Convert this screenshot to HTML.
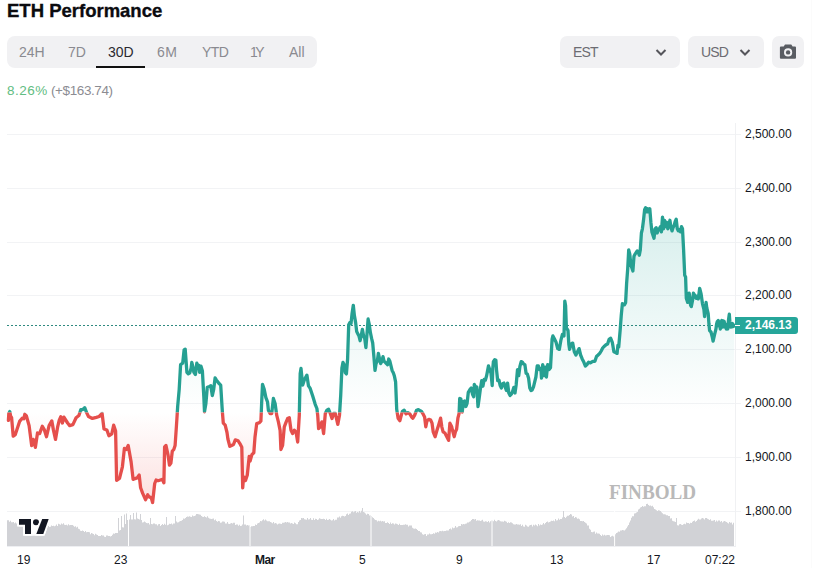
<!DOCTYPE html>
<html><head><meta charset="utf-8"><title>ETH Performance</title>
<style>
*{box-sizing:border-box;margin:0;padding:0}
html,body{width:815px;height:568px;background:#fff;overflow:hidden}
body{position:relative;font-family:"Liberation Sans",sans-serif;color:#131722}
.chart{position:absolute;left:0;top:0}
.title{position:absolute;left:7px;top:0px;font-size:18.5px;font-weight:bold;color:#0b0b0f;white-space:nowrap;line-height:22px;-webkit-text-stroke:0.35px #0b0b0f}
.tabs{position:absolute;left:7px;top:36px;width:310px;height:32px;background:#f1f1f3;border-radius:8px}
.tab{position:absolute;top:44px;font-size:14px;color:#8a8a90;white-space:nowrap}
.tab.sel{color:#2a2a30}
.uline{position:absolute;left:96px;top:66px;width:49px;height:2px;background:#111}
.chg{position:absolute;top:83px;font-size:13.5px;white-space:nowrap;color:#8c8c92}
.chg.g{color:#62bd82}
.dd{position:absolute;top:36px;height:32px;background:#f1f1f3;border-radius:7px}
.ddt{position:absolute;top:44px;font-size:14px;color:#6c6c72;white-space:nowrap;letter-spacing:-0.8px}
.yl{position:absolute;left:745px;font-size:12px;color:#131722;white-space:nowrap;line-height:18px}
.xl{position:absolute;top:552px;font-size:12px;color:#131722;white-space:nowrap;line-height:16px}
.plabel{position:absolute;left:735px;top:317px;width:63px;height:17px;background:#26a69a;border-radius:0 3px 3px 0;color:#fff;font-size:12px;font-weight:bold;line-height:17px;padding-left:10px}
.plabel:before{content:"";position:absolute;left:0;top:8px;width:5px;height:1px;background:#fff}
.wm{position:absolute;left:609px;top:480px;font-family:"Liberation Serif",serif;font-weight:bold;font-size:21px;color:#b9b9b9;white-space:nowrap;transform:scaleX(0.91);transform-origin:0 0}
.tv{position:absolute;left:10px;top:512px}
</style></head><body>
<svg class="chart" width="815" height="568" viewBox="0 0 815 568">
<defs>
<linearGradient id="gUp" x1="0" y1="205" x2="0" y2="412.5" gradientUnits="userSpaceOnUse">
<stop offset="0" stop-color="#26a69a" stop-opacity="0.19"/>
<stop offset="1" stop-color="#26a69a" stop-opacity="0.0"/>
</linearGradient>
<linearGradient id="gDn" x1="0" y1="412.5" x2="0" y2="505" gradientUnits="userSpaceOnUse">
<stop offset="0" stop-color="#ef5350" stop-opacity="0.0"/>
<stop offset="1" stop-color="#ef5350" stop-opacity="0.19"/>
</linearGradient>
<clipPath id="cUp"><rect x="0" y="0" width="736" height="412.5"/></clipPath>
<clipPath id="cDn"><rect x="0" y="412.5" width="736" height="200"/></clipPath>
</defs>
<path d="M7 134.5 H741" stroke="#f2f3f5" stroke-width="1"/>
<path d="M7 188.5 H741" stroke="#f2f3f5" stroke-width="1"/>
<path d="M7 242.5 H741" stroke="#f2f3f5" stroke-width="1"/>
<path d="M7 295.5 H741" stroke="#f2f3f5" stroke-width="1"/>
<path d="M7 349.5 H741" stroke="#f2f3f5" stroke-width="1"/>
<path d="M7 403.5 H741" stroke="#f2f3f5" stroke-width="1"/>
<path d="M7 457.5 H741" stroke="#f2f3f5" stroke-width="1"/>
<path d="M7 511.5 H741" stroke="#f2f3f5" stroke-width="1"/>
<path d="M735.5 123 V546" stroke="#f0f1f3" stroke-width="1"/>
<path d="M811.5 0 V568" stroke="#fbfbfb" stroke-width="1"/>
<path d="M8.4 420.4 L8.8 413.5 L9.8 411.6 L10.6 416 L11.6 417.7 L13.2 436.2 L15.3 434.6 L19.6 421.4 L22.2 418.2 L23.8 418.8 L24.8 414.3 L26.4 416 L29.1 425.6 L31.7 445.7 L33.3 439.4 L35.4 447.3 L37.5 433 L39.6 433.6 L42.3 426.2 L44.4 429.9 L46.5 436.7 L49.1 425.6 L51.8 420.9 L53.4 429.9 L55.5 439.4 L57.6 427.2 L59.2 420.4 L60.8 416.7 L62.4 423 L63.9 417.2 L67.6 423 L69.7 425.6 L72.9 424.6 L76.1 417.7 L78.9 415.5 L80.8 409.7 L82.7 409.7 L84.7 407.7 L86.6 412.6 L88.5 416.5 L92.4 418.4 L96.3 417.4 L99.2 416.5 L102.1 413.5 L104 429 L106.9 430 L108.9 435.8 L111.8 433.9 L113.7 425.2 L115.6 431 L116.6 480.3 L119.5 478.4 L122.4 466.8 L124.4 448.4 L126.3 449.4 L128.2 445.5 L131.1 461.9 L133.1 479.4 L135 478.6 L137.1 477.9 L139.2 475.1 L140.6 487.7 L142.7 493.4 L145.6 499.7 L147.7 494.8 L149.1 496.9 L151.2 497.6 L152.6 502.5 L154.7 483.5 L156.1 480 L158.2 480.7 L160.4 480 L162.5 479.3 L163.9 482.8 L164.6 446.9 L166 445.5 L168.1 455.4 L169.5 465.2 L170.9 463.1 L172.3 451.1 L173.7 449.7 L175.1 445.5 L176.5 425 L177.7 406.2 L179.2 389.3 L180.6 364.6 L182.7 363.2 L184.1 349.9 L185.2 349.2 L186.2 362.5 L186.9 372.4 L188.3 373.8 L189.7 373.1 L191.1 368.2 L191.8 362.5 L193.2 368.2 L193.9 372.4 L195.4 374.5 L196.8 363.2 L198.2 368.2 L198.9 365.4 L199.6 372.4 L201 366.1 L202.4 371 L203.8 396.3 L204.5 411.8 L205.9 403.4 L207.3 387.2 L209.4 386.5 L210.8 385.8 L212.3 395.6 L213.7 389.3 L215.1 378 L216.5 380.1 L218.6 383 L220.7 385.1 L222.1 407.6 L222.4 412.2 L223.3 423.2 L225.2 425.1 L227 432.5 L227.9 439 L229.8 446.3 L231.6 445.4 L233.5 444.5 L235.3 439.9 L238.1 440.8 L239.9 443.6 L241.8 447.3 L242.7 487.9 L243.6 476.8 L245.5 480.5 L247.3 475 L249.2 456.5 L250.1 461.1 L251.9 454.6 L253.8 452.8 L255 437 L256.7 423.6 L259.2 422.7 L260.9 421.1 L261.7 401.8 L262.5 384.3 L264.2 389.3 L265.9 397.6 L267.5 401.8 L268.4 410.2 L270.1 413.5 L271.7 413.5 L273.4 398.5 L275.1 403.5 L276.7 415.2 L278.4 421.9 L280.1 430.3 L280.9 449.5 L282.6 445.3 L284.3 426.9 L285.9 422.7 L287.6 418.5 L289.3 417.7 L291 430.3 L292.6 433.6 L294.3 430.3 L296 431.9 L297.7 442 L299.3 415.2 L300.2 373.4 L301 368.4 L302.7 385.1 L304.3 380.1 L306.9 375.1 L308.5 385.9 L310.2 388.4 L312.7 396 L315.2 404.3 L316.9 408.5 L317.7 415.2 L318.6 428.6 L320.2 426.9 L321.9 421.9 L323.6 433.6 L325.3 413.5 L326.9 410.2 L328.6 409.3 L330.3 413.5 L332 418.5 L333.6 413.5 L335.3 413.5 L337.8 424.4 L339.5 415.2 L340.7 395.6 L341.9 368.1 L343 362.4 L344.1 364.7 L345.3 372.7 L346.4 373.9 L347.6 359 L348.7 324.7 L349.9 322.4 L351 323.6 L352.1 313.3 L353.3 305.3 L354.4 315.6 L355.6 322.4 L356.7 331.6 L357.9 333.9 L359 336.1 L360.1 340.7 L361.3 335 L362.4 329.3 L363.6 336.1 L364.7 338.4 L365.9 347.6 L367 333.9 L368.1 319 L369.3 324.7 L370.4 332.7 L371.6 338.4 L372.7 343 L373.9 356.7 L375 370.4 L376.1 363.6 L377.3 361.3 L378.4 353.3 L379.6 359 L380.7 363.6 L381.9 361.3 L383 356.7 L384.1 361.3 L385.3 362.4 L386.4 363.6 L387.6 364.7 L388.7 359 L389.9 361.3 L391 365.9 L392.1 370.4 L393.3 372.7 L394.4 376.1 L395.6 381.9 L396.7 409.3 L398.1 418.2 L399.9 420.7 L401.2 415.7 L402.4 411.4 L404.2 410.2 L406.1 413.9 L407.9 412.7 L409.8 413.9 L411.6 417 L412.9 418.2 L414.7 415.1 L416.6 410.2 L418.4 409.6 L420.3 410.8 L421.5 411.4 L422.7 413.3 L424.6 417 L425.8 426.8 L427 420.7 L428.9 419.4 L430.7 420.1 L432 423.1 L433.2 431.8 L435.1 436.7 L436.9 430.5 L438.8 424.4 L440.6 418.2 L441.8 426.8 L443.1 431.8 L444.9 433 L446.8 436.7 L448.6 440.4 L449.9 423.1 L451.7 426.8 L452.9 431.8 L454.2 436.7 L455.4 431.8 L456.6 429.3 L457.9 418.2 L459.1 413.3 L459.7 398.5 L460.9 399.1 L462.2 412 L463.4 402.2 L464.6 401 L465.9 406.5 L467.1 403.4 L468.3 392.3 L470.2 389.2 L471.2 388.1 L472.5 394.2 L473.7 396.7 L474.3 384.4 L475.5 386.8 L476.8 386.8 L478 406.6 L479.2 397.9 L480.5 388.1 L481.7 380.7 L482.9 386.2 L484.2 379.4 L485.4 380.1 L486.6 375.7 L488.5 365.9 L489.7 369.6 L491 373.3 L492.2 385.6 L492.8 368.4 L493.4 361.6 L494.7 359.7 L495.9 360.3 L496.5 369.6 L497.7 380.7 L499 380.1 L500.2 385.6 L501.4 388.1 L502.7 383.8 L503.9 383.1 L505.1 386.8 L506.4 390.5 L507.6 383.1 L508.8 393 L510.1 395.5 L511.3 394.2 L512.5 391.8 L513.8 387.5 L515 393 L516.2 384.4 L517.5 369.6 L518.7 375.7 L519.9 366.5 L521.2 361.6 L522.4 362.2 L523.6 364.1 L524.9 364.7 L526.1 373.3 L527.3 373.9 L528.6 378.2 L529.8 388.1 L531 390.5 L532.2 389.9 L533.5 386.8 L534.7 381.9 L535.9 377 L537.2 365.9 L538.4 365.9 L539.6 369.6 L540.9 368.4 L541.5 378.2 L542.7 364.7 L544 375.7 L545.2 367.1 L546.4 377 L547.7 364.7 L548.9 369.6 L550.5 367.6 L552.1 339.1 L552.9 335.9 L554.5 339.1 L556.1 342.3 L557.7 348.6 L559.3 349.4 L560.8 340.7 L562.4 334.4 L564 335.9 L564.8 301.1 L565.6 305.8 L566.4 328 L568 330.4 L568.8 343.9 L569.6 349.4 L571.1 343.9 L572.7 343.1 L574.3 351.8 L575.9 355 L577.5 351.8 L579.1 348.6 L580.6 355 L582.2 358.9 L583.8 362.1 L585.4 366 L587 364.5 L588.6 362.1 L590.1 362.9 L591.7 362.1 L593.3 361.3 L594.9 361.3 L596.5 356.5 L598.1 355 L599.7 353.4 L601.2 351 L602.8 347.8 L604.4 346.2 L606 344.7 L607.6 343.9 L609.2 339.1 L610.7 338.3 L612.3 342.3 L613.9 351.8 L615.5 352.6 L617.1 353.4 L617.9 345.4 L618.7 347 L620.2 329.6 L621.3 314.9 L622.4 303.7 L624.5 304.8 L625.6 302.7 L626.6 283.7 L627.7 268.9 L628.7 249.9 L629.8 254.1 L630.8 264.7 L632.9 271 L634 256.2 L635.1 254.1 L637.2 250.9 L638.2 252 L639.3 255.2 L640.3 249.9 L641.4 233 L642.4 228.8 L643.5 220.3 L644.6 209.8 L645.6 207.7 L646.7 211.9 L647.7 208.7 L648.8 211.9 L649.8 208.7 L650.9 222.4 L651.9 231.9 L654 238.3 L655.1 228.8 L656.2 227.7 L657.2 233 L658.3 229.8 L659.3 228.8 L660.4 226.7 L661.4 231.9 L662.5 217.2 L663.5 228.8 L664.6 220.3 L665.7 226.7 L666.7 222.4 L667.8 228.8 L668.8 224.6 L669.9 220.3 L670.9 226.7 L672 230.9 L673 227.7 L674.1 225.6 L675.2 221.4 L676.2 219.3 L677.3 228.8 L678.3 230.9 L679.4 229.8 L680.4 231.9 L681.5 226.7 L682.5 228.8 L683.6 249.9 L684.7 275.2 L685.6 277 L686.3 298.2 L687.7 302.4 L689.2 293.2 L690.6 305.2 L691.3 306.6 L692.7 299.6 L693.4 293.2 L694.8 295.4 L696.2 298.2 L696.9 296.1 L698.3 298.9 L699.7 288.3 L701.1 293.9 L702.5 303.8 L703.9 309.4 L704.6 316.5 L706.1 302.4 L706.8 308 L708.2 313.7 L708.9 323.5 L709.6 330.6 L711 332 L712.4 337.6 L713.1 341.1 L714.5 334.8 L715.9 329.2 L716.6 324 L717.3 321.5 L718.2 320.5 L719 326 L719.6 322 L720.3 329 L721 323 L721.8 320.5 L722.6 327 L723.3 321 L724.2 321.5 L724.8 327 L725.5 324 L726.3 329 L727 326 L727.7 329 L728.5 320 L729.3 314.2 L729.9 322 L730.5 327 L731.2 324 L731.9 327 L732.6 323.5 L733.3 326.5 L734.2 325.2 L734.2 412.5 L8.4 412.5 Z" fill="url(#gUp)" clip-path="url(#cUp)"/>
<path d="M8.4 420.4 L8.8 413.5 L9.8 411.6 L10.6 416 L11.6 417.7 L13.2 436.2 L15.3 434.6 L19.6 421.4 L22.2 418.2 L23.8 418.8 L24.8 414.3 L26.4 416 L29.1 425.6 L31.7 445.7 L33.3 439.4 L35.4 447.3 L37.5 433 L39.6 433.6 L42.3 426.2 L44.4 429.9 L46.5 436.7 L49.1 425.6 L51.8 420.9 L53.4 429.9 L55.5 439.4 L57.6 427.2 L59.2 420.4 L60.8 416.7 L62.4 423 L63.9 417.2 L67.6 423 L69.7 425.6 L72.9 424.6 L76.1 417.7 L78.9 415.5 L80.8 409.7 L82.7 409.7 L84.7 407.7 L86.6 412.6 L88.5 416.5 L92.4 418.4 L96.3 417.4 L99.2 416.5 L102.1 413.5 L104 429 L106.9 430 L108.9 435.8 L111.8 433.9 L113.7 425.2 L115.6 431 L116.6 480.3 L119.5 478.4 L122.4 466.8 L124.4 448.4 L126.3 449.4 L128.2 445.5 L131.1 461.9 L133.1 479.4 L135 478.6 L137.1 477.9 L139.2 475.1 L140.6 487.7 L142.7 493.4 L145.6 499.7 L147.7 494.8 L149.1 496.9 L151.2 497.6 L152.6 502.5 L154.7 483.5 L156.1 480 L158.2 480.7 L160.4 480 L162.5 479.3 L163.9 482.8 L164.6 446.9 L166 445.5 L168.1 455.4 L169.5 465.2 L170.9 463.1 L172.3 451.1 L173.7 449.7 L175.1 445.5 L176.5 425 L177.7 406.2 L179.2 389.3 L180.6 364.6 L182.7 363.2 L184.1 349.9 L185.2 349.2 L186.2 362.5 L186.9 372.4 L188.3 373.8 L189.7 373.1 L191.1 368.2 L191.8 362.5 L193.2 368.2 L193.9 372.4 L195.4 374.5 L196.8 363.2 L198.2 368.2 L198.9 365.4 L199.6 372.4 L201 366.1 L202.4 371 L203.8 396.3 L204.5 411.8 L205.9 403.4 L207.3 387.2 L209.4 386.5 L210.8 385.8 L212.3 395.6 L213.7 389.3 L215.1 378 L216.5 380.1 L218.6 383 L220.7 385.1 L222.1 407.6 L222.4 412.2 L223.3 423.2 L225.2 425.1 L227 432.5 L227.9 439 L229.8 446.3 L231.6 445.4 L233.5 444.5 L235.3 439.9 L238.1 440.8 L239.9 443.6 L241.8 447.3 L242.7 487.9 L243.6 476.8 L245.5 480.5 L247.3 475 L249.2 456.5 L250.1 461.1 L251.9 454.6 L253.8 452.8 L255 437 L256.7 423.6 L259.2 422.7 L260.9 421.1 L261.7 401.8 L262.5 384.3 L264.2 389.3 L265.9 397.6 L267.5 401.8 L268.4 410.2 L270.1 413.5 L271.7 413.5 L273.4 398.5 L275.1 403.5 L276.7 415.2 L278.4 421.9 L280.1 430.3 L280.9 449.5 L282.6 445.3 L284.3 426.9 L285.9 422.7 L287.6 418.5 L289.3 417.7 L291 430.3 L292.6 433.6 L294.3 430.3 L296 431.9 L297.7 442 L299.3 415.2 L300.2 373.4 L301 368.4 L302.7 385.1 L304.3 380.1 L306.9 375.1 L308.5 385.9 L310.2 388.4 L312.7 396 L315.2 404.3 L316.9 408.5 L317.7 415.2 L318.6 428.6 L320.2 426.9 L321.9 421.9 L323.6 433.6 L325.3 413.5 L326.9 410.2 L328.6 409.3 L330.3 413.5 L332 418.5 L333.6 413.5 L335.3 413.5 L337.8 424.4 L339.5 415.2 L340.7 395.6 L341.9 368.1 L343 362.4 L344.1 364.7 L345.3 372.7 L346.4 373.9 L347.6 359 L348.7 324.7 L349.9 322.4 L351 323.6 L352.1 313.3 L353.3 305.3 L354.4 315.6 L355.6 322.4 L356.7 331.6 L357.9 333.9 L359 336.1 L360.1 340.7 L361.3 335 L362.4 329.3 L363.6 336.1 L364.7 338.4 L365.9 347.6 L367 333.9 L368.1 319 L369.3 324.7 L370.4 332.7 L371.6 338.4 L372.7 343 L373.9 356.7 L375 370.4 L376.1 363.6 L377.3 361.3 L378.4 353.3 L379.6 359 L380.7 363.6 L381.9 361.3 L383 356.7 L384.1 361.3 L385.3 362.4 L386.4 363.6 L387.6 364.7 L388.7 359 L389.9 361.3 L391 365.9 L392.1 370.4 L393.3 372.7 L394.4 376.1 L395.6 381.9 L396.7 409.3 L398.1 418.2 L399.9 420.7 L401.2 415.7 L402.4 411.4 L404.2 410.2 L406.1 413.9 L407.9 412.7 L409.8 413.9 L411.6 417 L412.9 418.2 L414.7 415.1 L416.6 410.2 L418.4 409.6 L420.3 410.8 L421.5 411.4 L422.7 413.3 L424.6 417 L425.8 426.8 L427 420.7 L428.9 419.4 L430.7 420.1 L432 423.1 L433.2 431.8 L435.1 436.7 L436.9 430.5 L438.8 424.4 L440.6 418.2 L441.8 426.8 L443.1 431.8 L444.9 433 L446.8 436.7 L448.6 440.4 L449.9 423.1 L451.7 426.8 L452.9 431.8 L454.2 436.7 L455.4 431.8 L456.6 429.3 L457.9 418.2 L459.1 413.3 L459.7 398.5 L460.9 399.1 L462.2 412 L463.4 402.2 L464.6 401 L465.9 406.5 L467.1 403.4 L468.3 392.3 L470.2 389.2 L471.2 388.1 L472.5 394.2 L473.7 396.7 L474.3 384.4 L475.5 386.8 L476.8 386.8 L478 406.6 L479.2 397.9 L480.5 388.1 L481.7 380.7 L482.9 386.2 L484.2 379.4 L485.4 380.1 L486.6 375.7 L488.5 365.9 L489.7 369.6 L491 373.3 L492.2 385.6 L492.8 368.4 L493.4 361.6 L494.7 359.7 L495.9 360.3 L496.5 369.6 L497.7 380.7 L499 380.1 L500.2 385.6 L501.4 388.1 L502.7 383.8 L503.9 383.1 L505.1 386.8 L506.4 390.5 L507.6 383.1 L508.8 393 L510.1 395.5 L511.3 394.2 L512.5 391.8 L513.8 387.5 L515 393 L516.2 384.4 L517.5 369.6 L518.7 375.7 L519.9 366.5 L521.2 361.6 L522.4 362.2 L523.6 364.1 L524.9 364.7 L526.1 373.3 L527.3 373.9 L528.6 378.2 L529.8 388.1 L531 390.5 L532.2 389.9 L533.5 386.8 L534.7 381.9 L535.9 377 L537.2 365.9 L538.4 365.9 L539.6 369.6 L540.9 368.4 L541.5 378.2 L542.7 364.7 L544 375.7 L545.2 367.1 L546.4 377 L547.7 364.7 L548.9 369.6 L550.5 367.6 L552.1 339.1 L552.9 335.9 L554.5 339.1 L556.1 342.3 L557.7 348.6 L559.3 349.4 L560.8 340.7 L562.4 334.4 L564 335.9 L564.8 301.1 L565.6 305.8 L566.4 328 L568 330.4 L568.8 343.9 L569.6 349.4 L571.1 343.9 L572.7 343.1 L574.3 351.8 L575.9 355 L577.5 351.8 L579.1 348.6 L580.6 355 L582.2 358.9 L583.8 362.1 L585.4 366 L587 364.5 L588.6 362.1 L590.1 362.9 L591.7 362.1 L593.3 361.3 L594.9 361.3 L596.5 356.5 L598.1 355 L599.7 353.4 L601.2 351 L602.8 347.8 L604.4 346.2 L606 344.7 L607.6 343.9 L609.2 339.1 L610.7 338.3 L612.3 342.3 L613.9 351.8 L615.5 352.6 L617.1 353.4 L617.9 345.4 L618.7 347 L620.2 329.6 L621.3 314.9 L622.4 303.7 L624.5 304.8 L625.6 302.7 L626.6 283.7 L627.7 268.9 L628.7 249.9 L629.8 254.1 L630.8 264.7 L632.9 271 L634 256.2 L635.1 254.1 L637.2 250.9 L638.2 252 L639.3 255.2 L640.3 249.9 L641.4 233 L642.4 228.8 L643.5 220.3 L644.6 209.8 L645.6 207.7 L646.7 211.9 L647.7 208.7 L648.8 211.9 L649.8 208.7 L650.9 222.4 L651.9 231.9 L654 238.3 L655.1 228.8 L656.2 227.7 L657.2 233 L658.3 229.8 L659.3 228.8 L660.4 226.7 L661.4 231.9 L662.5 217.2 L663.5 228.8 L664.6 220.3 L665.7 226.7 L666.7 222.4 L667.8 228.8 L668.8 224.6 L669.9 220.3 L670.9 226.7 L672 230.9 L673 227.7 L674.1 225.6 L675.2 221.4 L676.2 219.3 L677.3 228.8 L678.3 230.9 L679.4 229.8 L680.4 231.9 L681.5 226.7 L682.5 228.8 L683.6 249.9 L684.7 275.2 L685.6 277 L686.3 298.2 L687.7 302.4 L689.2 293.2 L690.6 305.2 L691.3 306.6 L692.7 299.6 L693.4 293.2 L694.8 295.4 L696.2 298.2 L696.9 296.1 L698.3 298.9 L699.7 288.3 L701.1 293.9 L702.5 303.8 L703.9 309.4 L704.6 316.5 L706.1 302.4 L706.8 308 L708.2 313.7 L708.9 323.5 L709.6 330.6 L711 332 L712.4 337.6 L713.1 341.1 L714.5 334.8 L715.9 329.2 L716.6 324 L717.3 321.5 L718.2 320.5 L719 326 L719.6 322 L720.3 329 L721 323 L721.8 320.5 L722.6 327 L723.3 321 L724.2 321.5 L724.8 327 L725.5 324 L726.3 329 L727 326 L727.7 329 L728.5 320 L729.3 314.2 L729.9 322 L730.5 327 L731.2 324 L731.9 327 L732.6 323.5 L733.3 326.5 L734.2 325.2 L734.2 412.5 L8.4 412.5 Z" fill="url(#gDn)" clip-path="url(#cDn)"/>
<path d="M7 546 V520.2 H8 V546 ZM8 546 V520.2 H9 V546 ZM9 546 V521.7 H10 V546 ZM10 546 V520.8 H11 V546 ZM11 546 V522.2 H12 V546 ZM12 546 V522.2 H13 V546 ZM13 546 V521.9 H14 V546 ZM14 546 V523.3 H15 V546 ZM15 546 V522.5 H16 V546 ZM16 546 V523.5 H17 V546 ZM17 546 V522.8 H18 V546 ZM18 546 V523 H19 V546 ZM19 546 V523.8 H20 V546 ZM20 546 V524.8 H21 V546 ZM21 546 V523.3 H22 V546 ZM22 546 V523.7 H23 V546 ZM23 546 V524.6 H24 V546 ZM24 546 V525.5 H25 V546 ZM25 546 V524.7 H26 V546 ZM26 546 V524.4 H27 V546 ZM27 546 V525.8 H28 V546 ZM28 546 V523.9 H29 V546 ZM29 546 V525.8 H30 V546 ZM30 546 V524.6 H31 V546 ZM31 546 V524.4 H32 V546 ZM32 546 V524.4 H33 V546 ZM33 546 V524.9 H34 V546 ZM34 546 V526.1 H35 V546 ZM35 546 V524.8 H36 V546 ZM36 546 V525.8 H37 V546 ZM37 546 V526 H38 V546 ZM38 546 V525.5 H39 V546 ZM39 546 V525.9 H40 V546 ZM40 546 V524.9 H41 V546 ZM41 546 V525 H42 V546 ZM42 546 V525.4 H43 V546 ZM43 546 V526.5 H44 V546 ZM44 546 V526.1 H45 V546 ZM45 546 V525.9 H46 V546 ZM46 546 V526.6 H47 V546 ZM47 546 V526.4 H48 V546 ZM48 546 V526.1 H49 V546 ZM49 546 V527.1 H50 V546 ZM50 546 V526.7 H51 V546 ZM51 546 V525.5 H52 V546 ZM52 546 V526 H53 V546 ZM53 546 V525.7 H54 V546 ZM54 546 V526.3 H55 V546 ZM55 546 V525.8 H56 V546 ZM56 546 V524.6 H57 V546 ZM57 546 V525.9 H58 V546 ZM58 546 V523.8 H59 V546 ZM59 546 V524.2 H60 V546 ZM60 546 V524.8 H61 V546 ZM61 546 V523.4 H62 V546 ZM62 546 V524.2 H63 V546 ZM63 546 V523.3 H64 V546 ZM64 546 V524.7 H65 V546 ZM65 546 V525 H66 V546 ZM66 546 V524.7 H67 V546 ZM67 546 V525.4 H68 V546 ZM68 546 V524.3 H69 V546 ZM69 546 V525.2 H70 V546 ZM70 546 V525.1 H71 V546 ZM71 546 V525.1 H72 V546 ZM72 546 V524.9 H73 V546 ZM73 546 V525.8 H74 V546 ZM74 546 V526.7 H75 V546 ZM75 546 V526.3 H76 V546 ZM76 546 V527.4 H77 V546 ZM77 546 V526.7 H78 V546 ZM78 546 V528.7 H79 V546 ZM79 546 V529.3 H80 V546 ZM80 546 V530.7 H81 V546 ZM81 546 V531 H82 V546 ZM82 546 V530.4 H83 V546 ZM83 546 V531.1 H84 V546 ZM84 546 V532 H85 V546 ZM85 546 V530.9 H86 V546 ZM86 546 V532.2 H87 V546 ZM87 546 V531.9 H88 V546 ZM88 546 V532.1 H89 V546 ZM89 546 V532.3 H90 V546 ZM90 546 V534.2 H91 V546 ZM91 546 V533.1 H92 V546 ZM92 546 V533.6 H93 V546 ZM93 546 V534.1 H94 V546 ZM94 546 V535.3 H95 V546 ZM95 546 V533.7 H96 V546 ZM96 546 V534.6 H97 V546 ZM97 546 V535 H98 V546 ZM98 546 V535.9 H99 V546 ZM99 546 V535.9 H100 V546 ZM100 546 V536.1 H101 V546 ZM101 546 V535 H102 V546 ZM102 546 V535.4 H103 V546 ZM103 546 V535.4 H104 V546 ZM104 546 V536.7 H105 V546 ZM105 546 V537 H106 V546 ZM106 546 V535.4 H107 V546 ZM107 546 V535.6 H108 V546 ZM108 546 V535.9 H109 V546 ZM109 546 V536 H110 V546 ZM110 546 V536.4 H111 V546 ZM111 546 V536 H112 V546 ZM112 546 V534.7 H113 V546 ZM113 546 V533.5 H114 V546 ZM114 546 V533.8 H115 V546 ZM115 546 V533.1 H116 V546 ZM116 546 V532.9 H117 V546 ZM117 546 V533 H118 V546 ZM118 546 V531.7 H119 V546 ZM119 546 V530.5 H120 V546 ZM120 546 V530 H121 V546 ZM121 546 V529.4 H122 V546 ZM122 546 V527.3 H123 V546 ZM123 546 V527.6 H124 V546 ZM124 546 V525.6 H125 V546 ZM125 546 V524.1 H126 V546 ZM126 546 V522.1 H127 V546 ZM127 546 V519.9 H128 V546 ZM128 546 V520 H129 V546 ZM129 546 V519.4 H130 V546 ZM130 546 V520.6 H131 V546 ZM131 546 V519.4 H132 V546 ZM132 546 V519.4 H133 V546 ZM133 546 V519.5 H134 V546 ZM134 546 V519.3 H135 V546 ZM135 546 V519.6 H136 V546 ZM136 546 V518.8 H137 V546 ZM137 546 V518.6 H138 V546 ZM138 546 V519 H139 V546 ZM139 546 V519.4 H140 V546 ZM140 546 V520.4 H141 V546 ZM141 546 V520.1 H142 V546 ZM142 546 V522.4 H143 V546 ZM143 546 V522.2 H144 V546 ZM144 546 V521.6 H145 V546 ZM145 546 V522.3 H146 V546 ZM146 546 V522.9 H147 V546 ZM147 546 V523.3 H148 V546 ZM148 546 V522.9 H149 V546 ZM149 546 V524.6 H150 V546 ZM150 546 V525 H151 V546 ZM151 546 V524 H152 V546 ZM152 546 V524.2 H153 V546 ZM153 546 V523.4 H154 V546 ZM154 546 V523.6 H155 V546 ZM155 546 V524.2 H156 V546 ZM156 546 V524.2 H157 V546 ZM157 546 V525.6 H158 V546 ZM158 546 V524.2 H159 V546 ZM159 546 V524.1 H160 V546 ZM160 546 V526 H161 V546 ZM161 546 V525 H162 V546 ZM162 546 V524.1 H163 V546 ZM163 546 V524.9 H164 V546 ZM164 546 V523.7 H165 V546 ZM165 546 V524.7 H166 V546 ZM166 546 V525.6 H167 V546 ZM167 546 V525.2 H168 V546 ZM168 546 V524.8 H169 V546 ZM169 546 V523.8 H170 V546 ZM170 546 V523.9 H171 V546 ZM171 546 V523.4 H172 V546 ZM172 546 V524.4 H173 V546 ZM173 546 V523.4 H174 V546 ZM174 546 V523.6 H175 V546 ZM175 546 V522.1 H176 V546 ZM176 546 V521.5 H177 V546 ZM177 546 V522.4 H178 V546 ZM178 546 V522.3 H179 V546 ZM179 546 V521.6 H180 V546 ZM180 546 V521.1 H181 V546 ZM181 546 V520.7 H182 V546 ZM182 546 V520.1 H183 V546 ZM183 546 V518.5 H184 V546 ZM184 546 V518.7 H185 V546 ZM185 546 V518 H186 V546 ZM186 546 V516.9 H187 V546 ZM187 546 V516.5 H188 V546 ZM188 546 V516.7 H189 V546 ZM189 546 V516.3 H190 V546 ZM190 546 V516.8 H191 V546 ZM191 546 V517 H192 V546 ZM192 546 V515.5 H193 V546 ZM193 546 V516.2 H194 V546 ZM194 546 V515.9 H195 V546 ZM195 546 V515.5 H196 V546 ZM196 546 V514.1 H197 V546 ZM197 546 V514.1 H198 V546 ZM198 546 V514.3 H199 V546 ZM199 546 V514.5 H200 V546 ZM200 546 V514.8 H201 V546 ZM201 546 V515.9 H202 V546 ZM202 546 V516.8 H203 V546 ZM203 546 V516.9 H204 V546 ZM204 546 V516.3 H205 V546 ZM205 546 V517 H206 V546 ZM206 546 V517.5 H207 V546 ZM207 546 V516.2 H208 V546 ZM208 546 V517.7 H209 V546 ZM209 546 V518.6 H210 V546 ZM210 546 V518.7 H211 V546 ZM211 546 V519 H212 V546 ZM212 546 V518.8 H213 V546 ZM213 546 V518.5 H214 V546 ZM214 546 V520.2 H215 V546 ZM215 546 V519.6 H216 V546 ZM216 546 V521 H217 V546 ZM217 546 V521.8 H218 V546 ZM218 546 V520.9 H219 V546 ZM219 546 V521.3 H220 V546 ZM220 546 V522.8 H221 V546 ZM221 546 V522.6 H222 V546 ZM222 546 V521.5 H223 V546 ZM223 546 V521.5 H224 V546 ZM224 546 V521.7 H225 V546 ZM225 546 V523.5 H226 V546 ZM226 546 V523.4 H227 V546 ZM227 546 V522 H228 V546 ZM228 546 V523.7 H229 V546 ZM229 546 V524.1 H230 V546 ZM230 546 V523.5 H231 V546 ZM231 546 V523 H232 V546 ZM232 546 V523.5 H233 V546 ZM233 546 V522.8 H234 V546 ZM234 546 V522.8 H235 V546 ZM235 546 V525.1 H236 V546 ZM236 546 V524.6 H237 V546 ZM237 546 V524.6 H238 V546 ZM238 546 V525.7 H239 V546 ZM239 546 V524.8 H240 V546 ZM240 546 V525.9 H241 V546 ZM241 546 V525.8 H242 V546 ZM242 546 V524.5 H243 V546 ZM243 546 V524.6 H244 V546 ZM244 546 V524.6 H245 V546 ZM245 546 V524.5 H246 V546 ZM246 546 V525.4 H247 V546 ZM247 546 V524.9 H248 V546 ZM248 546 V525.5 H249 V546 ZM249 546 V525.2 H250 V546 ZM250 546 V527.1 H251 V546 ZM251 546 V526.2 H252 V546 ZM252 546 V526.2 H253 V546 ZM253 546 V526 H254 V546 ZM254 546 V526.1 H255 V546 ZM255 546 V524.5 H256 V546 ZM256 546 V525.1 H257 V546 ZM257 546 V523.6 H258 V546 ZM258 546 V523.1 H259 V546 ZM259 546 V522.6 H260 V546 ZM260 546 V520.9 H261 V546 ZM261 546 V521.3 H262 V546 ZM262 546 V520.2 H263 V546 ZM263 546 V519.3 H264 V546 ZM264 546 V520.5 H265 V546 ZM265 546 V519.4 H266 V546 ZM266 546 V520.4 H267 V546 ZM267 546 V521.3 H268 V546 ZM268 546 V521.3 H269 V546 ZM269 546 V521.2 H270 V546 ZM270 546 V521.9 H271 V546 ZM271 546 V522.4 H272 V546 ZM272 546 V523.2 H273 V546 ZM273 546 V522.1 H274 V546 ZM274 546 V523.4 H275 V546 ZM275 546 V523.1 H276 V546 ZM276 546 V523.5 H277 V546 ZM277 546 V524.5 H278 V546 ZM278 546 V523.7 H279 V546 ZM279 546 V523.6 H280 V546 ZM280 546 V523.8 H281 V546 ZM281 546 V523.9 H282 V546 ZM282 546 V522.7 H283 V546 ZM283 546 V522.8 H284 V546 ZM284 546 V522.4 H285 V546 ZM285 546 V522.1 H286 V546 ZM286 546 V522.5 H287 V546 ZM287 546 V522.1 H288 V546 ZM288 546 V522.4 H289 V546 ZM289 546 V522.4 H290 V546 ZM290 546 V523.5 H291 V546 ZM291 546 V523.1 H292 V546 ZM292 546 V523.6 H293 V546 ZM293 546 V523.9 H294 V546 ZM294 546 V522.5 H295 V546 ZM295 546 V523.3 H296 V546 ZM296 546 V524.3 H297 V546 ZM297 546 V524.2 H298 V546 ZM298 546 V522 H299 V546 ZM299 546 V520.6 H300 V546 ZM300 546 V519.9 H301 V546 ZM301 546 V518 H302 V546 ZM302 546 V518.3 H303 V546 ZM303 546 V518 H304 V546 ZM304 546 V519.3 H305 V546 ZM305 546 V519.5 H306 V546 ZM306 546 V519.8 H307 V546 ZM307 546 V518.1 H308 V546 ZM308 546 V519.4 H309 V546 ZM309 546 V519.3 H310 V546 ZM310 546 V518.1 H311 V546 ZM311 546 V519.7 H312 V546 ZM312 546 V519.9 H313 V546 ZM313 546 V518.3 H314 V546 ZM314 546 V519.9 H315 V546 ZM315 546 V518.7 H316 V546 ZM316 546 V518.9 H317 V546 ZM317 546 V520 H318 V546 ZM318 546 V519.6 H319 V546 ZM319 546 V518.2 H320 V546 ZM320 546 V518.8 H321 V546 ZM321 546 V519.1 H322 V546 ZM322 546 V518.9 H323 V546 ZM323 546 V518.7 H324 V546 ZM324 546 V519.1 H325 V546 ZM325 546 V520.1 H326 V546 ZM326 546 V518.7 H327 V546 ZM327 546 V520 H328 V546 ZM328 546 V519.8 H329 V546 ZM329 546 V519 H330 V546 ZM330 546 V519.8 H331 V546 ZM331 546 V520.6 H332 V546 ZM332 546 V520.2 H333 V546 ZM333 546 V518.9 H334 V546 ZM334 546 V520.5 H335 V546 ZM335 546 V519.7 H336 V546 ZM336 546 V519.8 H337 V546 ZM337 546 V517.5 H338 V546 ZM338 546 V517.5 H339 V546 ZM339 546 V516.6 H340 V546 ZM340 546 V517.8 H341 V546 ZM341 546 V516.3 H342 V546 ZM342 546 V515.7 H343 V546 ZM343 546 V515.9 H344 V546 ZM344 546 V516.6 H345 V546 ZM345 546 V516 H346 V546 ZM346 546 V514.3 H347 V546 ZM347 546 V513.6 H348 V546 ZM348 546 V514.9 H349 V546 ZM349 546 V513.7 H350 V546 ZM350 546 V513.5 H351 V546 ZM351 546 V511.8 H352 V546 ZM352 546 V511.3 H353 V546 ZM353 546 V512.2 H354 V546 ZM354 546 V511.6 H355 V546 ZM355 546 V510.9 H356 V546 ZM356 546 V512.8 H357 V546 ZM357 546 V512.1 H358 V546 ZM358 546 V512.5 H359 V546 ZM359 546 V510.9 H360 V546 ZM360 546 V512.6 H361 V546 ZM361 546 V510.8 H362 V546 ZM362 546 V512.6 H363 V546 ZM363 546 V512.1 H364 V546 ZM364 546 V512.4 H365 V546 ZM365 546 V513.4 H366 V546 ZM366 546 V514.7 H367 V546 ZM367 546 V513.8 H368 V546 ZM368 546 V514 H369 V546 ZM369 546 V515.4 H370 V546 ZM370 546 V515.3 H371 V546 ZM371 546 V516 H372 V546 ZM372 546 V517.2 H373 V546 ZM373 546 V517.9 H374 V546 ZM374 546 V519.2 H375 V546 ZM375 546 V520.1 H376 V546 ZM376 546 V520.3 H377 V546 ZM377 546 V521.5 H378 V546 ZM378 546 V520.7 H379 V546 ZM379 546 V521.3 H380 V546 ZM380 546 V520.8 H381 V546 ZM381 546 V521.4 H382 V546 ZM382 546 V520.9 H383 V546 ZM383 546 V521.6 H384 V546 ZM384 546 V521.3 H385 V546 ZM385 546 V523.1 H386 V546 ZM386 546 V522.9 H387 V546 ZM387 546 V522.3 H388 V546 ZM388 546 V523 H389 V546 ZM389 546 V524.1 H390 V546 ZM390 546 V522.4 H391 V546 ZM391 546 V524 H392 V546 ZM392 546 V523.3 H393 V546 ZM393 546 V523.5 H394 V546 ZM394 546 V524.4 H395 V546 ZM395 546 V523.5 H396 V546 ZM396 546 V523.8 H397 V546 ZM397 546 V524.3 H398 V546 ZM398 546 V525.1 H399 V546 ZM399 546 V523.8 H400 V546 ZM400 546 V525 H401 V546 ZM401 546 V525 H402 V546 ZM402 546 V525 H403 V546 ZM403 546 V524.7 H404 V546 ZM404 546 V524.8 H405 V546 ZM405 546 V524.3 H406 V546 ZM406 546 V524.7 H407 V546 ZM407 546 V524.8 H408 V546 ZM408 546 V526.5 H409 V546 ZM409 546 V525.6 H410 V546 ZM410 546 V525.6 H411 V546 ZM411 546 V525.6 H412 V546 ZM412 546 V527.8 H413 V546 ZM413 546 V528.5 H414 V546 ZM414 546 V528.8 H415 V546 ZM415 546 V528.6 H416 V546 ZM416 546 V529.1 H417 V546 ZM417 546 V529.9 H418 V546 ZM418 546 V531 H419 V546 ZM419 546 V531 H420 V546 ZM420 546 V532.2 H421 V546 ZM421 546 V532.4 H422 V546 ZM422 546 V534.3 H423 V546 ZM423 546 V534.7 H424 V546 ZM424 546 V534.2 H425 V546 ZM425 546 V533.9 H426 V546 ZM426 546 V535.9 H427 V546 ZM427 546 V534.6 H428 V546 ZM428 546 V534.5 H429 V546 ZM429 546 V533.5 H430 V546 ZM430 546 V534.2 H431 V546 ZM431 546 V534.2 H432 V546 ZM432 546 V534 H433 V546 ZM433 546 V533.2 H434 V546 ZM434 546 V533.7 H435 V546 ZM435 546 V532.4 H436 V546 ZM436 546 V532.7 H437 V546 ZM437 546 V532 H438 V546 ZM438 546 V532.4 H439 V546 ZM439 546 V531.3 H440 V546 ZM440 546 V531 H441 V546 ZM441 546 V531.3 H442 V546 ZM442 546 V530.8 H443 V546 ZM443 546 V531.3 H444 V546 ZM444 546 V530.9 H445 V546 ZM445 546 V531.1 H446 V546 ZM446 546 V530.6 H447 V546 ZM447 546 V530.4 H448 V546 ZM448 546 V530.5 H449 V546 ZM449 546 V529 H450 V546 ZM450 546 V528.5 H451 V546 ZM451 546 V529.6 H452 V546 ZM452 546 V527.4 H453 V546 ZM453 546 V528.3 H454 V546 ZM454 546 V527.8 H455 V546 ZM455 546 V526.1 H456 V546 ZM456 546 V527.4 H457 V546 ZM457 546 V527.2 H458 V546 ZM458 546 V526.3 H459 V546 ZM459 546 V526.1 H460 V546 ZM460 546 V525.9 H461 V546 ZM461 546 V524 H462 V546 ZM462 546 V524.5 H463 V546 ZM463 546 V524 H464 V546 ZM464 546 V524.3 H465 V546 ZM465 546 V523.8 H466 V546 ZM466 546 V523.4 H467 V546 ZM467 546 V522.4 H468 V546 ZM468 546 V522.6 H469 V546 ZM469 546 V521.7 H470 V546 ZM470 546 V521.3 H471 V546 ZM471 546 V519.9 H472 V546 ZM472 546 V519 H473 V546 ZM473 546 V519 H474 V546 ZM474 546 V519.6 H475 V546 ZM475 546 V519.1 H476 V546 ZM476 546 V520.8 H477 V546 ZM477 546 V520.3 H478 V546 ZM478 546 V520.6 H479 V546 ZM479 546 V520.6 H480 V546 ZM480 546 V520.9 H481 V546 ZM481 546 V520.6 H482 V546 ZM482 546 V519.7 H483 V546 ZM483 546 V521.6 H484 V546 ZM484 546 V521.7 H485 V546 ZM485 546 V521.3 H486 V546 ZM486 546 V521.6 H487 V546 ZM487 546 V522 H488 V546 ZM488 546 V520.9 H489 V546 ZM489 546 V522.5 H490 V546 ZM490 546 V521.2 H491 V546 ZM491 546 V520.4 H492 V546 ZM492 546 V520.5 H493 V546 ZM493 546 V521.2 H494 V546 ZM494 546 V519.8 H495 V546 ZM495 546 V520.9 H496 V546 ZM496 546 V521.4 H497 V546 ZM497 546 V520.4 H498 V546 ZM498 546 V520.1 H499 V546 ZM499 546 V520.5 H500 V546 ZM500 546 V521.2 H501 V546 ZM501 546 V521.6 H502 V546 ZM502 546 V521.5 H503 V546 ZM503 546 V521.8 H504 V546 ZM504 546 V520.8 H505 V546 ZM505 546 V521.2 H506 V546 ZM506 546 V521.7 H507 V546 ZM507 546 V523 H508 V546 ZM508 546 V522.3 H509 V546 ZM509 546 V523.1 H510 V546 ZM510 546 V522.2 H511 V546 ZM511 546 V522.5 H512 V546 ZM512 546 V523.2 H513 V546 ZM513 546 V524.2 H514 V546 ZM514 546 V524.5 H515 V546 ZM515 546 V524.6 H516 V546 ZM516 546 V523.9 H517 V546 ZM517 546 V524.6 H518 V546 ZM518 546 V524.6 H519 V546 ZM519 546 V524.8 H520 V546 ZM520 546 V524.2 H521 V546 ZM521 546 V526.1 H522 V546 ZM522 546 V524.8 H523 V546 ZM523 546 V526.6 H524 V546 ZM524 546 V526.7 H525 V546 ZM525 546 V524.7 H526 V546 ZM526 546 V525.6 H527 V546 ZM527 546 V526.4 H528 V546 ZM528 546 V526.7 H529 V546 ZM529 546 V525.5 H530 V546 ZM530 546 V525 H531 V546 ZM531 546 V524.8 H532 V546 ZM532 546 V526.4 H533 V546 ZM533 546 V524.7 H534 V546 ZM534 546 V525.5 H535 V546 ZM535 546 V524.5 H536 V546 ZM536 546 V525.3 H537 V546 ZM537 546 V526.2 H538 V546 ZM538 546 V524.1 H539 V546 ZM539 546 V525.4 H540 V546 ZM540 546 V524.4 H541 V546 ZM541 546 V525 H542 V546 ZM542 546 V524.4 H543 V546 ZM543 546 V523.1 H544 V546 ZM544 546 V524.3 H545 V546 ZM545 546 V523.1 H546 V546 ZM546 546 V521.9 H547 V546 ZM547 546 V521.6 H548 V546 ZM548 546 V522.4 H549 V546 ZM549 546 V522.1 H550 V546 ZM550 546 V521.5 H551 V546 ZM551 546 V520.8 H552 V546 ZM552 546 V520.9 H553 V546 ZM553 546 V520.5 H554 V546 ZM554 546 V521.3 H555 V546 ZM555 546 V519.1 H556 V546 ZM556 546 V520.4 H557 V546 ZM557 546 V520.3 H558 V546 ZM558 546 V518.4 H559 V546 ZM559 546 V519.8 H560 V546 ZM560 546 V519 H561 V546 ZM561 546 V519.1 H562 V546 ZM562 546 V517.4 H563 V546 ZM563 546 V517.2 H564 V546 ZM564 546 V516.9 H565 V546 ZM565 546 V517.9 H566 V546 ZM566 546 V516.7 H567 V546 ZM567 546 V515.8 H568 V546 ZM568 546 V515.7 H569 V546 ZM569 546 V515 H570 V546 ZM570 546 V514.1 H571 V546 ZM571 546 V514.5 H572 V546 ZM572 546 V516.6 H573 V546 ZM573 546 V516 H574 V546 ZM574 546 V517.9 H575 V546 ZM575 546 V517 H576 V546 ZM576 546 V517.6 H577 V546 ZM577 546 V518.7 H578 V546 ZM578 546 V518.5 H579 V546 ZM579 546 V519.3 H580 V546 ZM580 546 V520.9 H581 V546 ZM581 546 V521.1 H582 V546 ZM582 546 V521.2 H583 V546 ZM583 546 V521.1 H584 V546 ZM584 546 V522.1 H585 V546 ZM585 546 V522.7 H586 V546 ZM586 546 V523.5 H587 V546 ZM587 546 V525.4 H588 V546 ZM588 546 V525.6 H589 V546 ZM589 546 V528.7 H590 V546 ZM590 546 V529.7 H591 V546 ZM591 546 V532 H592 V546 ZM592 546 V532.2 H593 V546 ZM593 546 V531.8 H594 V546 ZM594 546 V531.6 H595 V546 ZM595 546 V533.8 H596 V546 ZM596 546 V532.4 H597 V546 ZM597 546 V533.5 H598 V546 ZM598 546 V533.6 H599 V546 ZM599 546 V533.8 H600 V546 ZM600 546 V535.1 H601 V546 ZM601 546 V535.9 H602 V546 ZM602 546 V534.5 H603 V546 ZM603 546 V535.5 H604 V546 ZM604 546 V534.8 H605 V546 ZM605 546 V535.5 H606 V546 ZM606 546 V535.3 H607 V546 ZM607 546 V535 H608 V546 ZM608 546 V535.1 H609 V546 ZM609 546 V535.3 H610 V546 ZM610 546 V537 H611 V546 ZM611 546 V536.3 H612 V546 ZM612 546 V535.7 H613 V546 ZM613 546 V536.6 H614 V546 ZM614 546 V536.1 H615 V546 ZM615 546 V534.2 H616 V546 ZM616 546 V532.9 H617 V546 ZM617 546 V532.4 H618 V546 ZM618 546 V531.6 H619 V546 ZM619 546 V531.7 H620 V546 ZM620 546 V530.6 H621 V546 ZM621 546 V530.5 H622 V546 ZM622 546 V530 H623 V546 ZM623 546 V530.2 H624 V546 ZM624 546 V530.4 H625 V546 ZM625 546 V529.6 H626 V546 ZM626 546 V528.3 H627 V546 ZM627 546 V526.6 H628 V546 ZM628 546 V524.9 H629 V546 ZM629 546 V522.5 H630 V546 ZM630 546 V520.4 H631 V546 ZM631 546 V517.8 H632 V546 ZM632 546 V516.3 H633 V546 ZM633 546 V516.2 H634 V546 ZM634 546 V513.4 H635 V546 ZM635 546 V513.2 H636 V546 ZM636 546 V512.5 H637 V546 ZM637 546 V512 H638 V546 ZM638 546 V509.6 H639 V546 ZM639 546 V508.7 H640 V546 ZM640 546 V507.6 H641 V546 ZM641 546 V507 H642 V546 ZM642 546 V506.1 H643 V546 ZM643 546 V506.8 H644 V546 ZM644 546 V506.3 H645 V546 ZM645 546 V506.2 H646 V546 ZM646 546 V504 H647 V546 ZM647 546 V503.8 H648 V546 ZM648 546 V505.1 H649 V546 ZM649 546 V505.7 H650 V546 ZM650 546 V505.4 H651 V546 ZM651 546 V506.3 H652 V546 ZM652 546 V505.7 H653 V546 ZM653 546 V507.2 H654 V546 ZM654 546 V509 H655 V546 ZM655 546 V509.5 H656 V546 ZM656 546 V510.2 H657 V546 ZM657 546 V511.1 H658 V546 ZM658 546 V510.2 H659 V546 ZM659 546 V510.4 H660 V546 ZM660 546 V511 H661 V546 ZM661 546 V512.3 H662 V546 ZM662 546 V513.2 H663 V546 ZM663 546 V514.2 H664 V546 ZM664 546 V514.2 H665 V546 ZM665 546 V514.6 H666 V546 ZM666 546 V515.3 H667 V546 ZM667 546 V515.2 H668 V546 ZM668 546 V516 H669 V546 ZM669 546 V515.9 H670 V546 ZM670 546 V518.5 H671 V546 ZM671 546 V518.3 H672 V546 ZM672 546 V520.8 H673 V546 ZM673 546 V521.2 H674 V546 ZM674 546 V521.5 H675 V546 ZM675 546 V522.1 H676 V546 ZM676 546 V523.4 H677 V546 ZM677 546 V525.2 H678 V546 ZM678 546 V525.6 H679 V546 ZM679 546 V524.2 H680 V546 ZM680 546 V524 H681 V546 ZM681 546 V524.8 H682 V546 ZM682 546 V524.9 H683 V546 ZM683 546 V524.3 H684 V546 ZM684 546 V523.8 H685 V546 ZM685 546 V524.3 H686 V546 ZM686 546 V522.6 H687 V546 ZM687 546 V523 H688 V546 ZM688 546 V523 H689 V546 ZM689 546 V523.8 H690 V546 ZM690 546 V522.8 H691 V546 ZM691 546 V523 H692 V546 ZM692 546 V521.7 H693 V546 ZM693 546 V520.9 H694 V546 ZM694 546 V520.6 H695 V546 ZM695 546 V521.8 H696 V546 ZM696 546 V520.9 H697 V546 ZM697 546 V519.7 H698 V546 ZM698 546 V518.7 H699 V546 ZM699 546 V519.5 H700 V546 ZM700 546 V519.5 H701 V546 ZM701 546 V518.6 H702 V546 ZM702 546 V517.9 H703 V546 ZM703 546 V518.6 H704 V546 ZM704 546 V519.4 H705 V546 ZM705 546 V518.1 H706 V546 ZM706 546 V517.9 H707 V546 ZM707 546 V518.8 H708 V546 ZM708 546 V519.2 H709 V546 ZM709 546 V520 H710 V546 ZM710 546 V519.2 H711 V546 ZM711 546 V520.7 H712 V546 ZM712 546 V520.8 H713 V546 ZM713 546 V520.5 H714 V546 ZM714 546 V519.9 H715 V546 ZM715 546 V521.7 H716 V546 ZM716 546 V520.4 H717 V546 ZM717 546 V521.6 H718 V546 ZM718 546 V520.4 H719 V546 ZM719 546 V520.5 H720 V546 ZM720 546 V521.8 H721 V546 ZM721 546 V520.9 H722 V546 ZM722 546 V522.4 H723 V546 ZM723 546 V521.6 H724 V546 ZM724 546 V521.1 H725 V546 ZM725 546 V521.4 H726 V546 ZM726 546 V522 H727 V546 ZM727 546 V522.7 H728 V546 ZM728 546 V523.5 H729 V546 ZM729 546 V522 H730 V546 ZM730 546 V522.7 H731 V546 ZM731 546 V522.5 H732 V546 ZM732 546 V524.4 H733 V546 ZM733 546 V522.7 H734 V546 ZM118 546 V518 H119 V546 ZM121 546 V516 H122 V546 ZM124 546 V514.5 H125 V546 ZM126 546 V513.5 H127 V546 ZM130 546 V515 H131 V546 ZM133 546 V513 H134 V546 ZM136 546 V512.5 H137 V546 ZM140 546 V514 H141 V546 ZM150 546 V518 H151 V546 ZM166 546 V517 H167 V546 ZM175 546 V516 H176 V546 ZM243 546 V515.5 H244 V546 ZM362 546 V508 H363 V546 ZM563 546 V511 H564 V546 ZM676 546 V518 H677 V546 Z" fill="#d1d2d6"/>
<path d="M128.5 500 V546" stroke="#fff" stroke-width="1"/>
<path d="M250 500 V546" stroke="#fff" stroke-width="1"/>
<path d="M371 500 V546" stroke="#fff" stroke-width="1"/>
<path d="M492 500 V546" stroke="#fff" stroke-width="1"/>
<path d="M614.6 500 V546" stroke="#fff" stroke-width="1"/>
<path d="M7 325.5 H735" stroke="#2f8a80" stroke-width="1" stroke-dasharray="2 2"/>
<path d="M8.4 420.4 L8.8 413.5 L9.8 411.6 L10.6 416 L11.6 417.7 L13.2 436.2 L15.3 434.6 L19.6 421.4 L22.2 418.2 L23.8 418.8 L24.8 414.3 L26.4 416 L29.1 425.6 L31.7 445.7 L33.3 439.4 L35.4 447.3 L37.5 433 L39.6 433.6 L42.3 426.2 L44.4 429.9 L46.5 436.7 L49.1 425.6 L51.8 420.9 L53.4 429.9 L55.5 439.4 L57.6 427.2 L59.2 420.4 L60.8 416.7 L62.4 423 L63.9 417.2 L67.6 423 L69.7 425.6 L72.9 424.6 L76.1 417.7 L78.9 415.5 L80.8 409.7 L82.7 409.7 L84.7 407.7 L86.6 412.6 L88.5 416.5 L92.4 418.4 L96.3 417.4 L99.2 416.5 L102.1 413.5 L104 429 L106.9 430 L108.9 435.8 L111.8 433.9 L113.7 425.2 L115.6 431 L116.6 480.3 L119.5 478.4 L122.4 466.8 L124.4 448.4 L126.3 449.4 L128.2 445.5 L131.1 461.9 L133.1 479.4 L135 478.6 L137.1 477.9 L139.2 475.1 L140.6 487.7 L142.7 493.4 L145.6 499.7 L147.7 494.8 L149.1 496.9 L151.2 497.6 L152.6 502.5 L154.7 483.5 L156.1 480 L158.2 480.7 L160.4 480 L162.5 479.3 L163.9 482.8 L164.6 446.9 L166 445.5 L168.1 455.4 L169.5 465.2 L170.9 463.1 L172.3 451.1 L173.7 449.7 L175.1 445.5 L176.5 425 L177.7 406.2 L179.2 389.3 L180.6 364.6 L182.7 363.2 L184.1 349.9 L185.2 349.2 L186.2 362.5 L186.9 372.4 L188.3 373.8 L189.7 373.1 L191.1 368.2 L191.8 362.5 L193.2 368.2 L193.9 372.4 L195.4 374.5 L196.8 363.2 L198.2 368.2 L198.9 365.4 L199.6 372.4 L201 366.1 L202.4 371 L203.8 396.3 L204.5 411.8 L205.9 403.4 L207.3 387.2 L209.4 386.5 L210.8 385.8 L212.3 395.6 L213.7 389.3 L215.1 378 L216.5 380.1 L218.6 383 L220.7 385.1 L222.1 407.6 L222.4 412.2 L223.3 423.2 L225.2 425.1 L227 432.5 L227.9 439 L229.8 446.3 L231.6 445.4 L233.5 444.5 L235.3 439.9 L238.1 440.8 L239.9 443.6 L241.8 447.3 L242.7 487.9 L243.6 476.8 L245.5 480.5 L247.3 475 L249.2 456.5 L250.1 461.1 L251.9 454.6 L253.8 452.8 L255 437 L256.7 423.6 L259.2 422.7 L260.9 421.1 L261.7 401.8 L262.5 384.3 L264.2 389.3 L265.9 397.6 L267.5 401.8 L268.4 410.2 L270.1 413.5 L271.7 413.5 L273.4 398.5 L275.1 403.5 L276.7 415.2 L278.4 421.9 L280.1 430.3 L280.9 449.5 L282.6 445.3 L284.3 426.9 L285.9 422.7 L287.6 418.5 L289.3 417.7 L291 430.3 L292.6 433.6 L294.3 430.3 L296 431.9 L297.7 442 L299.3 415.2 L300.2 373.4 L301 368.4 L302.7 385.1 L304.3 380.1 L306.9 375.1 L308.5 385.9 L310.2 388.4 L312.7 396 L315.2 404.3 L316.9 408.5 L317.7 415.2 L318.6 428.6 L320.2 426.9 L321.9 421.9 L323.6 433.6 L325.3 413.5 L326.9 410.2 L328.6 409.3 L330.3 413.5 L332 418.5 L333.6 413.5 L335.3 413.5 L337.8 424.4 L339.5 415.2 L340.7 395.6 L341.9 368.1 L343 362.4 L344.1 364.7 L345.3 372.7 L346.4 373.9 L347.6 359 L348.7 324.7 L349.9 322.4 L351 323.6 L352.1 313.3 L353.3 305.3 L354.4 315.6 L355.6 322.4 L356.7 331.6 L357.9 333.9 L359 336.1 L360.1 340.7 L361.3 335 L362.4 329.3 L363.6 336.1 L364.7 338.4 L365.9 347.6 L367 333.9 L368.1 319 L369.3 324.7 L370.4 332.7 L371.6 338.4 L372.7 343 L373.9 356.7 L375 370.4 L376.1 363.6 L377.3 361.3 L378.4 353.3 L379.6 359 L380.7 363.6 L381.9 361.3 L383 356.7 L384.1 361.3 L385.3 362.4 L386.4 363.6 L387.6 364.7 L388.7 359 L389.9 361.3 L391 365.9 L392.1 370.4 L393.3 372.7 L394.4 376.1 L395.6 381.9 L396.7 409.3 L398.1 418.2 L399.9 420.7 L401.2 415.7 L402.4 411.4 L404.2 410.2 L406.1 413.9 L407.9 412.7 L409.8 413.9 L411.6 417 L412.9 418.2 L414.7 415.1 L416.6 410.2 L418.4 409.6 L420.3 410.8 L421.5 411.4 L422.7 413.3 L424.6 417 L425.8 426.8 L427 420.7 L428.9 419.4 L430.7 420.1 L432 423.1 L433.2 431.8 L435.1 436.7 L436.9 430.5 L438.8 424.4 L440.6 418.2 L441.8 426.8 L443.1 431.8 L444.9 433 L446.8 436.7 L448.6 440.4 L449.9 423.1 L451.7 426.8 L452.9 431.8 L454.2 436.7 L455.4 431.8 L456.6 429.3 L457.9 418.2 L459.1 413.3 L459.7 398.5 L460.9 399.1 L462.2 412 L463.4 402.2 L464.6 401 L465.9 406.5 L467.1 403.4 L468.3 392.3 L470.2 389.2 L471.2 388.1 L472.5 394.2 L473.7 396.7 L474.3 384.4 L475.5 386.8 L476.8 386.8 L478 406.6 L479.2 397.9 L480.5 388.1 L481.7 380.7 L482.9 386.2 L484.2 379.4 L485.4 380.1 L486.6 375.7 L488.5 365.9 L489.7 369.6 L491 373.3 L492.2 385.6 L492.8 368.4 L493.4 361.6 L494.7 359.7 L495.9 360.3 L496.5 369.6 L497.7 380.7 L499 380.1 L500.2 385.6 L501.4 388.1 L502.7 383.8 L503.9 383.1 L505.1 386.8 L506.4 390.5 L507.6 383.1 L508.8 393 L510.1 395.5 L511.3 394.2 L512.5 391.8 L513.8 387.5 L515 393 L516.2 384.4 L517.5 369.6 L518.7 375.7 L519.9 366.5 L521.2 361.6 L522.4 362.2 L523.6 364.1 L524.9 364.7 L526.1 373.3 L527.3 373.9 L528.6 378.2 L529.8 388.1 L531 390.5 L532.2 389.9 L533.5 386.8 L534.7 381.9 L535.9 377 L537.2 365.9 L538.4 365.9 L539.6 369.6 L540.9 368.4 L541.5 378.2 L542.7 364.7 L544 375.7 L545.2 367.1 L546.4 377 L547.7 364.7 L548.9 369.6 L550.5 367.6 L552.1 339.1 L552.9 335.9 L554.5 339.1 L556.1 342.3 L557.7 348.6 L559.3 349.4 L560.8 340.7 L562.4 334.4 L564 335.9 L564.8 301.1 L565.6 305.8 L566.4 328 L568 330.4 L568.8 343.9 L569.6 349.4 L571.1 343.9 L572.7 343.1 L574.3 351.8 L575.9 355 L577.5 351.8 L579.1 348.6 L580.6 355 L582.2 358.9 L583.8 362.1 L585.4 366 L587 364.5 L588.6 362.1 L590.1 362.9 L591.7 362.1 L593.3 361.3 L594.9 361.3 L596.5 356.5 L598.1 355 L599.7 353.4 L601.2 351 L602.8 347.8 L604.4 346.2 L606 344.7 L607.6 343.9 L609.2 339.1 L610.7 338.3 L612.3 342.3 L613.9 351.8 L615.5 352.6 L617.1 353.4 L617.9 345.4 L618.7 347 L620.2 329.6 L621.3 314.9 L622.4 303.7 L624.5 304.8 L625.6 302.7 L626.6 283.7 L627.7 268.9 L628.7 249.9 L629.8 254.1 L630.8 264.7 L632.9 271 L634 256.2 L635.1 254.1 L637.2 250.9 L638.2 252 L639.3 255.2 L640.3 249.9 L641.4 233 L642.4 228.8 L643.5 220.3 L644.6 209.8 L645.6 207.7 L646.7 211.9 L647.7 208.7 L648.8 211.9 L649.8 208.7 L650.9 222.4 L651.9 231.9 L654 238.3 L655.1 228.8 L656.2 227.7 L657.2 233 L658.3 229.8 L659.3 228.8 L660.4 226.7 L661.4 231.9 L662.5 217.2 L663.5 228.8 L664.6 220.3 L665.7 226.7 L666.7 222.4 L667.8 228.8 L668.8 224.6 L669.9 220.3 L670.9 226.7 L672 230.9 L673 227.7 L674.1 225.6 L675.2 221.4 L676.2 219.3 L677.3 228.8 L678.3 230.9 L679.4 229.8 L680.4 231.9 L681.5 226.7 L682.5 228.8 L683.6 249.9 L684.7 275.2 L685.6 277 L686.3 298.2 L687.7 302.4 L689.2 293.2 L690.6 305.2 L691.3 306.6 L692.7 299.6 L693.4 293.2 L694.8 295.4 L696.2 298.2 L696.9 296.1 L698.3 298.9 L699.7 288.3 L701.1 293.9 L702.5 303.8 L703.9 309.4 L704.6 316.5 L706.1 302.4 L706.8 308 L708.2 313.7 L708.9 323.5 L709.6 330.6 L711 332 L712.4 337.6 L713.1 341.1 L714.5 334.8 L715.9 329.2 L716.6 324 L717.3 321.5 L718.2 320.5 L719 326 L719.6 322 L720.3 329 L721 323 L721.8 320.5 L722.6 327 L723.3 321 L724.2 321.5 L724.8 327 L725.5 324 L726.3 329 L727 326 L727.7 329 L728.5 320 L729.3 314.2 L729.9 322 L730.5 327 L731.2 324 L731.9 327 L732.6 323.5 L733.3 326.5 L734.2 325.2" fill="none" stroke="#26a092" stroke-width="3.3" stroke-linejoin="round" stroke-linecap="round" clip-path="url(#cUp)"/>
<path d="M8.4 420.4 L8.8 413.5 L9.8 411.6 L10.6 416 L11.6 417.7 L13.2 436.2 L15.3 434.6 L19.6 421.4 L22.2 418.2 L23.8 418.8 L24.8 414.3 L26.4 416 L29.1 425.6 L31.7 445.7 L33.3 439.4 L35.4 447.3 L37.5 433 L39.6 433.6 L42.3 426.2 L44.4 429.9 L46.5 436.7 L49.1 425.6 L51.8 420.9 L53.4 429.9 L55.5 439.4 L57.6 427.2 L59.2 420.4 L60.8 416.7 L62.4 423 L63.9 417.2 L67.6 423 L69.7 425.6 L72.9 424.6 L76.1 417.7 L78.9 415.5 L80.8 409.7 L82.7 409.7 L84.7 407.7 L86.6 412.6 L88.5 416.5 L92.4 418.4 L96.3 417.4 L99.2 416.5 L102.1 413.5 L104 429 L106.9 430 L108.9 435.8 L111.8 433.9 L113.7 425.2 L115.6 431 L116.6 480.3 L119.5 478.4 L122.4 466.8 L124.4 448.4 L126.3 449.4 L128.2 445.5 L131.1 461.9 L133.1 479.4 L135 478.6 L137.1 477.9 L139.2 475.1 L140.6 487.7 L142.7 493.4 L145.6 499.7 L147.7 494.8 L149.1 496.9 L151.2 497.6 L152.6 502.5 L154.7 483.5 L156.1 480 L158.2 480.7 L160.4 480 L162.5 479.3 L163.9 482.8 L164.6 446.9 L166 445.5 L168.1 455.4 L169.5 465.2 L170.9 463.1 L172.3 451.1 L173.7 449.7 L175.1 445.5 L176.5 425 L177.7 406.2 L179.2 389.3 L180.6 364.6 L182.7 363.2 L184.1 349.9 L185.2 349.2 L186.2 362.5 L186.9 372.4 L188.3 373.8 L189.7 373.1 L191.1 368.2 L191.8 362.5 L193.2 368.2 L193.9 372.4 L195.4 374.5 L196.8 363.2 L198.2 368.2 L198.9 365.4 L199.6 372.4 L201 366.1 L202.4 371 L203.8 396.3 L204.5 411.8 L205.9 403.4 L207.3 387.2 L209.4 386.5 L210.8 385.8 L212.3 395.6 L213.7 389.3 L215.1 378 L216.5 380.1 L218.6 383 L220.7 385.1 L222.1 407.6 L222.4 412.2 L223.3 423.2 L225.2 425.1 L227 432.5 L227.9 439 L229.8 446.3 L231.6 445.4 L233.5 444.5 L235.3 439.9 L238.1 440.8 L239.9 443.6 L241.8 447.3 L242.7 487.9 L243.6 476.8 L245.5 480.5 L247.3 475 L249.2 456.5 L250.1 461.1 L251.9 454.6 L253.8 452.8 L255 437 L256.7 423.6 L259.2 422.7 L260.9 421.1 L261.7 401.8 L262.5 384.3 L264.2 389.3 L265.9 397.6 L267.5 401.8 L268.4 410.2 L270.1 413.5 L271.7 413.5 L273.4 398.5 L275.1 403.5 L276.7 415.2 L278.4 421.9 L280.1 430.3 L280.9 449.5 L282.6 445.3 L284.3 426.9 L285.9 422.7 L287.6 418.5 L289.3 417.7 L291 430.3 L292.6 433.6 L294.3 430.3 L296 431.9 L297.7 442 L299.3 415.2 L300.2 373.4 L301 368.4 L302.7 385.1 L304.3 380.1 L306.9 375.1 L308.5 385.9 L310.2 388.4 L312.7 396 L315.2 404.3 L316.9 408.5 L317.7 415.2 L318.6 428.6 L320.2 426.9 L321.9 421.9 L323.6 433.6 L325.3 413.5 L326.9 410.2 L328.6 409.3 L330.3 413.5 L332 418.5 L333.6 413.5 L335.3 413.5 L337.8 424.4 L339.5 415.2 L340.7 395.6 L341.9 368.1 L343 362.4 L344.1 364.7 L345.3 372.7 L346.4 373.9 L347.6 359 L348.7 324.7 L349.9 322.4 L351 323.6 L352.1 313.3 L353.3 305.3 L354.4 315.6 L355.6 322.4 L356.7 331.6 L357.9 333.9 L359 336.1 L360.1 340.7 L361.3 335 L362.4 329.3 L363.6 336.1 L364.7 338.4 L365.9 347.6 L367 333.9 L368.1 319 L369.3 324.7 L370.4 332.7 L371.6 338.4 L372.7 343 L373.9 356.7 L375 370.4 L376.1 363.6 L377.3 361.3 L378.4 353.3 L379.6 359 L380.7 363.6 L381.9 361.3 L383 356.7 L384.1 361.3 L385.3 362.4 L386.4 363.6 L387.6 364.7 L388.7 359 L389.9 361.3 L391 365.9 L392.1 370.4 L393.3 372.7 L394.4 376.1 L395.6 381.9 L396.7 409.3 L398.1 418.2 L399.9 420.7 L401.2 415.7 L402.4 411.4 L404.2 410.2 L406.1 413.9 L407.9 412.7 L409.8 413.9 L411.6 417 L412.9 418.2 L414.7 415.1 L416.6 410.2 L418.4 409.6 L420.3 410.8 L421.5 411.4 L422.7 413.3 L424.6 417 L425.8 426.8 L427 420.7 L428.9 419.4 L430.7 420.1 L432 423.1 L433.2 431.8 L435.1 436.7 L436.9 430.5 L438.8 424.4 L440.6 418.2 L441.8 426.8 L443.1 431.8 L444.9 433 L446.8 436.7 L448.6 440.4 L449.9 423.1 L451.7 426.8 L452.9 431.8 L454.2 436.7 L455.4 431.8 L456.6 429.3 L457.9 418.2 L459.1 413.3 L459.7 398.5 L460.9 399.1 L462.2 412 L463.4 402.2 L464.6 401 L465.9 406.5 L467.1 403.4 L468.3 392.3 L470.2 389.2 L471.2 388.1 L472.5 394.2 L473.7 396.7 L474.3 384.4 L475.5 386.8 L476.8 386.8 L478 406.6 L479.2 397.9 L480.5 388.1 L481.7 380.7 L482.9 386.2 L484.2 379.4 L485.4 380.1 L486.6 375.7 L488.5 365.9 L489.7 369.6 L491 373.3 L492.2 385.6 L492.8 368.4 L493.4 361.6 L494.7 359.7 L495.9 360.3 L496.5 369.6 L497.7 380.7 L499 380.1 L500.2 385.6 L501.4 388.1 L502.7 383.8 L503.9 383.1 L505.1 386.8 L506.4 390.5 L507.6 383.1 L508.8 393 L510.1 395.5 L511.3 394.2 L512.5 391.8 L513.8 387.5 L515 393 L516.2 384.4 L517.5 369.6 L518.7 375.7 L519.9 366.5 L521.2 361.6 L522.4 362.2 L523.6 364.1 L524.9 364.7 L526.1 373.3 L527.3 373.9 L528.6 378.2 L529.8 388.1 L531 390.5 L532.2 389.9 L533.5 386.8 L534.7 381.9 L535.9 377 L537.2 365.9 L538.4 365.9 L539.6 369.6 L540.9 368.4 L541.5 378.2 L542.7 364.7 L544 375.7 L545.2 367.1 L546.4 377 L547.7 364.7 L548.9 369.6 L550.5 367.6 L552.1 339.1 L552.9 335.9 L554.5 339.1 L556.1 342.3 L557.7 348.6 L559.3 349.4 L560.8 340.7 L562.4 334.4 L564 335.9 L564.8 301.1 L565.6 305.8 L566.4 328 L568 330.4 L568.8 343.9 L569.6 349.4 L571.1 343.9 L572.7 343.1 L574.3 351.8 L575.9 355 L577.5 351.8 L579.1 348.6 L580.6 355 L582.2 358.9 L583.8 362.1 L585.4 366 L587 364.5 L588.6 362.1 L590.1 362.9 L591.7 362.1 L593.3 361.3 L594.9 361.3 L596.5 356.5 L598.1 355 L599.7 353.4 L601.2 351 L602.8 347.8 L604.4 346.2 L606 344.7 L607.6 343.9 L609.2 339.1 L610.7 338.3 L612.3 342.3 L613.9 351.8 L615.5 352.6 L617.1 353.4 L617.9 345.4 L618.7 347 L620.2 329.6 L621.3 314.9 L622.4 303.7 L624.5 304.8 L625.6 302.7 L626.6 283.7 L627.7 268.9 L628.7 249.9 L629.8 254.1 L630.8 264.7 L632.9 271 L634 256.2 L635.1 254.1 L637.2 250.9 L638.2 252 L639.3 255.2 L640.3 249.9 L641.4 233 L642.4 228.8 L643.5 220.3 L644.6 209.8 L645.6 207.7 L646.7 211.9 L647.7 208.7 L648.8 211.9 L649.8 208.7 L650.9 222.4 L651.9 231.9 L654 238.3 L655.1 228.8 L656.2 227.7 L657.2 233 L658.3 229.8 L659.3 228.8 L660.4 226.7 L661.4 231.9 L662.5 217.2 L663.5 228.8 L664.6 220.3 L665.7 226.7 L666.7 222.4 L667.8 228.8 L668.8 224.6 L669.9 220.3 L670.9 226.7 L672 230.9 L673 227.7 L674.1 225.6 L675.2 221.4 L676.2 219.3 L677.3 228.8 L678.3 230.9 L679.4 229.8 L680.4 231.9 L681.5 226.7 L682.5 228.8 L683.6 249.9 L684.7 275.2 L685.6 277 L686.3 298.2 L687.7 302.4 L689.2 293.2 L690.6 305.2 L691.3 306.6 L692.7 299.6 L693.4 293.2 L694.8 295.4 L696.2 298.2 L696.9 296.1 L698.3 298.9 L699.7 288.3 L701.1 293.9 L702.5 303.8 L703.9 309.4 L704.6 316.5 L706.1 302.4 L706.8 308 L708.2 313.7 L708.9 323.5 L709.6 330.6 L711 332 L712.4 337.6 L713.1 341.1 L714.5 334.8 L715.9 329.2 L716.6 324 L717.3 321.5 L718.2 320.5 L719 326 L719.6 322 L720.3 329 L721 323 L721.8 320.5 L722.6 327 L723.3 321 L724.2 321.5 L724.8 327 L725.5 324 L726.3 329 L727 326 L727.7 329 L728.5 320 L729.3 314.2 L729.9 322 L730.5 327 L731.2 324 L731.9 327 L732.6 323.5 L733.3 326.5 L734.2 325.2" fill="none" stroke="#e54f4c" stroke-width="3.3" stroke-linejoin="round" stroke-linecap="round" clip-path="url(#cDn)"/>
<path d="M7 546.5 H736" stroke="#eeeff2" stroke-width="1"/>
</svg>
<div class="title">ETH Performance</div>
<div class="tabs"></div>
<div class="tab" style="left:19px">24H</div>
<div class="tab" style="left:68px">7D</div>
<div class="tab sel" style="left:108px">30D</div>
<div class="tab" style="left:157px;letter-spacing:0.4px">6M</div>
<div class="tab" style="left:202px;letter-spacing:-0.6px">YTD</div>
<div class="tab" style="left:250px;letter-spacing:-2.5px">1Y</div>
<div class="tab" style="left:289px">All</div>
<div class="uline"></div>
<div class="chg g" style="left:7px;letter-spacing:0.5px">8.26%</div><div class="chg" style="left:51px;letter-spacing:-0.4px">(+$163.74)</div>
<div class="dd" style="left:560px;width:120px"></div>
<div class="ddt" style="left:573px">EST</div>
<svg style="position:absolute;left:655px;top:48px" width="12" height="9" viewBox="0 0 12 9"><path d="M1.5 2 L6 6.5 L10.5 2" fill="none" stroke="#55555b" stroke-width="2"/></svg>
<div class="dd" style="left:688px;width:76px"></div>
<div class="ddt" style="left:701px">USD</div>
<svg style="position:absolute;left:739px;top:48px" width="12" height="9" viewBox="0 0 12 9"><path d="M1.5 2 L6 6.5 L10.5 2" fill="none" stroke="#55555b" stroke-width="2"/></svg>
<div class="dd" style="left:772px;width:32px"></div>
<svg style="position:absolute;left:779px;top:43px" width="18" height="17" viewBox="0 0 18 17"><path d="M6 1.5 H12.3 L13.6 3.4 H16 Q17 3.4 17 4.4 V14.7 Q17 15.7 16 15.7 H1.9 Q0.9 15.7 0.9 14.7 V4.4 Q0.9 3.4 1.9 3.4 H4.7 Z" fill="#595c62"/><circle cx="9.1" cy="9.4" r="4.1" fill="#f2f2f4"/><circle cx="9.1" cy="9.4" r="2.2" fill="#595c62"/></svg>
<div class="yl" style="top:124.5px">2,500.00</div><div class="yl" style="top:178.5px">2,400.00</div><div class="yl" style="top:232.5px">2,300.00</div><div class="yl" style="top:285.5px">2,200.00</div><div class="yl" style="top:339.5px">2,100.00</div><div class="yl" style="top:393.5px">2,000.00</div><div class="yl" style="top:447.5px">1,900.00</div><div class="yl" style="top:501.5px">1,800.00</div>
<div class="plabel">2,146.13</div>
<div class="wm">FINBOLD</div>
<svg class="tv" width="60" height="30" viewBox="10 512 60 30"><path d="M17 517 H50.8 L44.6 535.8 H23 V526.5 H17 Z" fill="#fff"/><g fill="#131722" stroke="#fff" stroke-width="3.5" stroke-linejoin="round" paint-order="stroke"><path d="M19 519 H31 V534 H25 V524.7 H19 Z"/><circle cx="36" cy="522.2" r="3"/><path d="M42.2 519 H48.7 L43.3 534 H36.3 Z"/></g></svg>
<div class="xl" style="left:17px">19</div>
<div class="xl" style="left:114px">23</div>
<div class="xl" style="left:255px;font-weight:bold;letter-spacing:-0.6px">Mar</div>
<div class="xl" style="left:359px">5</div>
<div class="xl" style="left:456px">9</div>
<div class="xl" style="left:550px">13</div>
<div class="xl" style="left:647px">17</div>
<div class="xl" style="left:705px">07:22</div>
</body></html>
